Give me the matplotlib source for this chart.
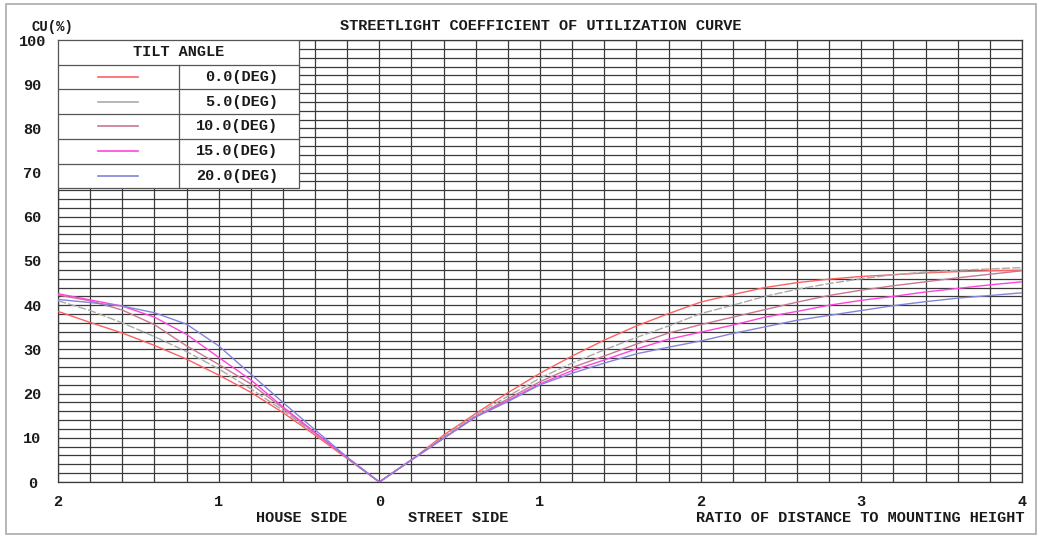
import matplotlib
matplotlib.use("Agg")
import matplotlib.pyplot as plt
from matplotlib.patches import Rectangle
import numpy as np

# distances (ratio of distance to mounting height)
house_dist = [0, 0.2, 0.4, 0.6, 0.8, 1.0, 1.2, 1.4, 1.6, 1.8, 2.0]
street_dist = [0, 0.2, 0.4, 0.6, 0.8, 1.0, 1.2, 1.4, 1.6, 1.8, 2.0,
               2.2, 2.4, 2.6, 2.8, 3.0, 3.2, 3.4, 3.6, 3.8, 4.0]

tilt_labels = ["0.0(DEG)", "5.0(DEG)", "10.0(DEG)", "15.0(DEG)", "20.0(DEG)"]

# CU (%) on the house side
house_cu = [
    [0, 5.3, 10.6, 15.7, 20.3, 24.2, 27.8, 30.9, 33.7, 36.1, 38.6],
    [0, 5.4, 10.9, 16.2, 21.1, 25.6, 29.5, 32.9, 36.0, 38.8, 41.0],
    [0, 5.4, 11.1, 16.7, 22.2, 26.6, 30.8, 35.6, 38.9, 41.0, 42.3],
    [0, 5.5, 11.2, 17.0, 23.1, 28.2, 33.4, 37.3, 39.8, 41.2, 42.6],
    [0, 5.6, 11.8, 18.0, 24.4, 30.8, 35.7, 38.3, 39.8, 40.6, 41.3],
]

# CU (%) on the street side
street_cu = [
    [0, 5.0, 10.6, 15.5, 20.2, 24.6, 28.5, 32.1, 35.3, 38.1, 40.7,
     42.4, 44.0, 45.1, 45.9, 46.5, 46.9, 47.3, 47.6, 47.8, 47.9],
    [0, 5.0, 10.2, 15.2, 19.4, 23.5, 26.9, 29.9, 32.7, 35.3, 38.1,
     40.0, 42.0, 43.6, 44.9, 46.0, 46.9, 47.5, 47.9, 48.2, 48.5],
    [0, 5.0, 9.9, 14.8, 18.8, 22.7, 25.9, 28.5, 31.2, 33.7, 35.6,
     37.3, 39.0, 40.7, 42.2, 43.4, 44.4, 45.3, 46.2, 47.0, 47.8],
    [0, 5.0, 9.9, 14.8, 18.4, 22.2, 25.2, 27.6, 30.1, 32.3, 33.9,
     35.5, 37.3, 38.6, 40.0, 41.1, 42.0, 43.0, 43.8, 44.6, 45.3],
    [0, 5.0, 9.9, 14.7, 18.2, 22.0, 24.6, 26.9, 29.0, 30.5, 31.9,
     33.6, 35.1, 36.6, 37.7, 38.8, 39.9, 40.8, 41.6, 42.2, 42.8],
]

colors = ["#ff6060", "#aaaaaa", "#c87890", "#ff44dd", "#8484dc"]
styles = ["-", (0, (6, 1.5)), "-", "-", "-"]

plt.rcParams["font.family"] = ["Liberation Mono", "DejaVu Sans Mono"]
plt.rcParams["font.weight"] = "bold"
plt.rcParams["font.size"] = 11

fig = plt.figure(figsize=(10.4, 5.36), dpi=100)
ax = fig.add_axes([58 / 1040, 54 / 536, 964 / 1040, 442 / 536])

# grid
for gx in np.arange(-2, 4.001, 0.2):
    ax.axvline(gx, color="#3a3a3a", lw=0.9, zorder=1)
for gy in np.arange(0, 100.001, 2):
    ax.axhline(gy, color="#3a3a3a", lw=0.9, zorder=1)

# curves
for i in range(5):
    xs = [-d for d in house_dist[::-1]] + street_dist[1:]
    ys = house_cu[i][::-1] + street_cu[i][1:]
    ax.plot(xs, ys, color=colors[i], ls=styles[i], lw=1.0, zorder=3)

ax.set_xlim(-2, 4)
ax.set_ylim(0, 100)
ax.set_xticks([-2, -1, 0, 1, 2, 3, 4])
ax.set_xticklabels(["2", "1", "0", "1", "2", "3", "4"])
ax.set_yticks(range(0, 101, 10))
ax.tick_params(length=0, labelsize=11, colors="#1a1a1a")
ax.tick_params(axis="y", pad=18.5)
ax.tick_params(axis="x", pad=9)
for lab in ax.get_yticklabels():
    lab.set_horizontalalignment("center")
for s in ax.spines.values():
    s.set_color("#3a3a3a")
    s.set_linewidth(0.9)

# legend table
t0, row_h = 0.6647, (1 - 0.6647) / 6
tab_r, div_x = 0.25, 0.1252
ax.add_patch(Rectangle((0, t0), tab_r, 1 - t0, transform=ax.transAxes,
                       facecolor="white", edgecolor="#555555", lw=0.9, zorder=5))
for k in range(1, 6):
    yk = 1 - k * row_h
    ax.plot([0, tab_r], [yk, yk], transform=ax.transAxes, color="#555555", lw=0.9, zorder=6)
ax.plot([div_x, div_x], [t0, 1 - row_h], transform=ax.transAxes, color="#555555", lw=0.9, zorder=6)
ax.text(tab_r / 2, 1 - row_h / 2, "TILT ANGLE", transform=ax.transAxes,
        ha="center", va="center", fontsize=11, color="#1a1a1a", zorder=7)
for i in range(5):
    yc = 1 - (i + 1.5) * row_h
    ax.plot([0.0415, 0.083], [yc, yc], transform=ax.transAxes, color=colors[i], lw=1.2, zorder=7)
    ax.text(0.228, yc, tilt_labels[i], transform=ax.transAxes,
            ha="right", va="center", fontsize=11, color="#1a1a1a", zorder=7)

# labels
fig.text(541 / 1040, 1 - 26 / 536, "STREETLIGHT COEFFICIENT OF UTILIZATION CURVE",
         ha="center", va="center", fontsize=11, color="#1a1a1a")
fig.text(32 / 1040, 1 - 27 / 536, "CU(%)", ha="left", va="center", fontsize=10, color="#1a1a1a")
fig.text(347 / 1040, 1 - 518 / 536, "HOUSE SIDE", ha="right", va="center", fontsize=11, color="#1a1a1a")
fig.text(408 / 1040, 1 - 518 / 536, "STREET SIDE", ha="left", va="center", fontsize=11, color="#1a1a1a")
fig.text(1025 / 1040, 1 - 518 / 536, "RATIO OF DISTANCE TO MOUNTING HEIGHT",
         ha="right", va="center", fontsize=11, color="#1a1a1a")

# outer frame
fig.patches.append(Rectangle((6 / 1040, 2 / 536), 1030 / 1040, 530 / 536,
                             transform=fig.transFigure, fill=False,
                             edgecolor="#aaaaaa", lw=1.2))

fig.savefig("out.png", dpi=100)
